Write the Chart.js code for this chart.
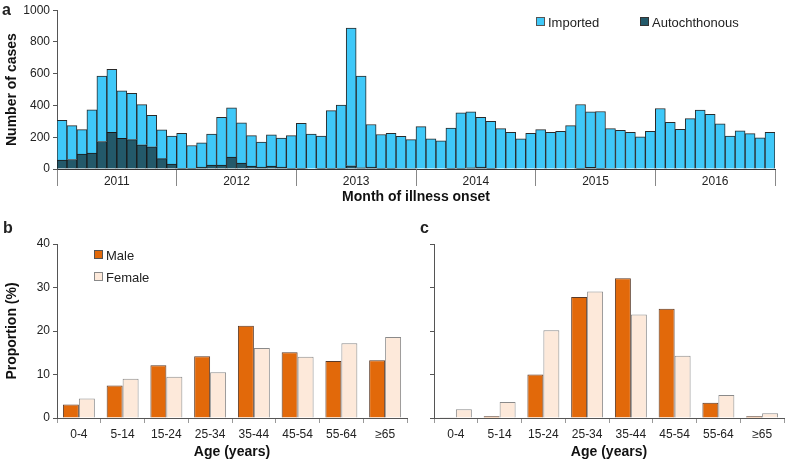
<!DOCTYPE html>
<html>
<head>
<meta charset="utf-8">
<script src="https://cdn.jsdelivr.net/npm/chart.js@4"></script>
<style>
  body { margin: 0; width: 785px; height: 463px; background: #fff; position: relative; overflow: hidden;
         font-family: "Liberation Sans", Arial, sans-serif; color: #222; }
  .box { position: absolute; }
  .letter { position: absolute; font-weight: bold; font-size: 16px; }
  .leg { position: absolute; font-size: 13px; line-height: 14px; white-space: nowrap; }
  .leg i { display: inline-block; width: 7px; height: 7px; margin-right: 3px; vertical-align: 1px; }
</style>
</head>
<body>
<div class="box" style="left:0;top:0;width:785px;height:210px"><canvas id="chart-a"></canvas></div>
<div class="box" style="left:0;top:225px;width:410px;height:238px"><canvas id="chart-b"></canvas></div>
<div class="box" style="left:410px;top:225px;width:375px;height:238px"><canvas id="chart-c"></canvas></div>

<div class="letter" style="left:2px;top:1px">a</div>
<div class="letter" style="left:3px;top:219px">b</div>
<div class="letter" style="left:420px;top:219px">c</div>

<div class="leg" style="left:536px;top:16px"><i style="background:#3fc8f8;border:1px solid #555"></i>Imported</div>
<div class="leg" style="left:640px;top:16px"><i style="background:#23596a;border:1px solid #333"></i>Autochthonous</div>
<div class="leg" style="left:94px;top:249px"><i style="background:#e2690a;border:1px solid #555"></i>Male</div>
<div class="leg" style="left:94px;top:271px"><i style="background:#fde9da;border:1px solid #888"></i>Female</div>

<script>
const years = ["2011", "2012", "2013", "2014", "2015", "2016"];
const months = ["Jan", "Feb", "Mar", "Apr", "May", "Jun", "Jul", "Aug", "Sep", "Oct", "Nov", "Dec"];

const imported = [
  250, 213, 154, 273, 412, 397, 299, 291, 253, 198, 181, 176,
  220, 143, 153, 195, 300, 310, 252, 192, 158, 197, 183, 205,
  283, 220, 203, 363, 397, 868, 577, 268, 212, 220, 203, 182,
  267, 190, 177, 253, 349, 352, 313, 295, 254, 231, 190, 225,
  248, 231, 237, 273, 401, 350, 357, 251, 244, 231, 202, 237,
  381, 294, 250, 317, 371, 344, 285, 208, 240, 223, 196, 231,
];
const autochthonous = [
  56, 60, 94, 100, 173, 231, 193, 185, 152, 140, 65, 31,
  5, 5, 12, 25, 25, 75, 38, 18, 12, 18, 12, 5,
  5, 0, 5, 5, 5, 20, 8, 12, 5, 5, 3, 3,
  0, 0, 0, 5, 5, 8, 12, 5, 0, 0, 0, 0,
  0, 0, 0, 0, 5, 10, 5, 3, 0, 0, 0, 0,
  0, 0, 0, 0, 0, 0, 0, 0, 0, 0, 0, 0,
];

const ageGroups = ["0-4", "5-14", "15-24", "25-34", "35-44", "45-54", "55-64", "≥65"];
const maleB = [3.1, 7.5, 12.1, 14.2, 21.2, 15.1, 13.1, 13.3];
const femaleB = [4.5, 9.0, 9.5, 10.5, 16.1, 14.1, 17.2, 18.6];
const maleC = [0.15, 0.4, 10.0, 27.8, 32.1, 25.1, 3.5, 0.4];
const femaleC = [2.0, 3.7, 20.2, 29.1, 23.8, 14.3, 5.3, 1.1];

Chart.defaults.font.family = '"Liberation Sans", Arial, sans-serif';
Chart.defaults.font.size = 12;
Chart.defaults.color = "#333";
Chart.defaults.animation = false;

const monthLabels = years.flatMap((y) => months.map((m) => `${m} ${y}`));
const titleFont = { size: 14, weight: "bold" };

new Chart(document.getElementById("chart-a"), {
  type: "bar",
  data: {
    labels: monthLabels,
    datasets: [
      {
        label: "Autochthonous",
        data: autochthonous,
        backgroundColor: "#23596a",
        borderColor: "#1a1a1a",
        borderWidth: 1,
        borderSkipped: "bottom",
      },
      {
        label: "Imported",
        data: imported,
        backgroundColor: "#3fc8f8",
        borderColor: "#2a2a2a",
        borderWidth: 1,
        borderSkipped: "bottom",
      },
    ],
  },
  options: {
    responsive: true,
    maintainAspectRatio: false,
    layout: { padding: { top: 9, right: 10, left: 0, bottom: 0 } },
    datasets: { bar: { barPercentage: 1, categoryPercentage: 1 } },
    plugins: { legend: { display: false }, tooltip: { enabled: false } },
    scales: {
      x: {
        stacked: true,
        ticks: {
          autoSkip: false,
          maxRotation: 0,
          padding: -12,
          labelOffset: 5,
          color: "#222",
          // one year label per 12 months, centred on the year
          callback: (v, i) => (i % 12 === 5 ? years[(i - 5) / 12] : ""),
        },
        grid: {
          drawOnChartArea: false,
          offset: true,
          tickLength: 17,
          color: (ctx) => (ctx.index === undefined || ctx.index % 12 === 0 ? "#888" : "rgba(0,0,0,0)"),
        },
        border: { color: "#333" },
        title: { display: true, text: "Month of illness onset", font: titleFont, color: "#111", padding: { top: 0, bottom: 4 } },
        afterFit: (scale) => { scale.height = 41; },
      },
      y: {
        stacked: true,
        min: 0,
        max: 1000,
        ticks: { stepSize: 200, padding: 3, color: "#222", callback: (v) => String(v) },
        grid: { drawOnChartArea: false, tickLength: 4, color: "#555" },
        border: { color: "#555" },
        title: { display: true, text: "Number of cases", font: titleFont, color: "#111", padding: { top: 4, bottom: 0 } },
        afterFit: (scale) => { scale.width = 57; },
      },
    },
  },
});

function ageChart(id, male, female, showY) {
  return new Chart(document.getElementById(id), {
    type: "bar",
    data: {
      labels: ageGroups,
      datasets: [
        { label: "Male", data: male, backgroundColor: "#e2690a", borderColor: "#5a3a28", borderWidth: 1, borderSkipped: "bottom" },
        { label: "Female", data: female, backgroundColor: "#fde9da", borderColor: "#8a8a8a", borderWidth: 1, borderSkipped: "bottom" },
      ],
    },
    options: {
      responsive: true,
      maintainAspectRatio: false,
      layout: { padding: { top: 19, right: showY ? 3 : 1, left: 0, bottom: 0 } },
      datasets: { bar: { barPercentage: 1, categoryPercentage: 0.73 } },
      plugins: { legend: { display: false }, tooltip: { enabled: false } },
      scales: {
        x: {
          ticks: { padding: 4, color: "#222", maxRotation: 0, autoSkip: false },
          grid: { drawOnChartArea: false, tickLength: 5, color: "#999", offset: true },
          border: { color: "#555" },
          title: { display: true, text: "Age (years)", font: titleFont, color: "#111", padding: { top: 0, bottom: 2 } },
          afterFit: (scale) => { scale.height = 45; },
        },
        y: {
          min: 0,
          max: 40,
          ticks: { stepSize: 10, padding: 3, color: "#222", display: showY },
          grid: { drawOnChartArea: false, tickLength: 4, color: "#555" },
          border: { color: "#555" },
          title: { display: showY, text: "Proportion (%)", font: titleFont, color: "#111", padding: { top: 4, bottom: 0 } },
          afterFit: (scale) => { scale.width = showY ? 57 : 24; },
        },
      },
    },
  });
}

ageChart("chart-b", maleB, femaleB, true);
ageChart("chart-c", maleC, femaleC, false);
</script>
</body>
</html>
